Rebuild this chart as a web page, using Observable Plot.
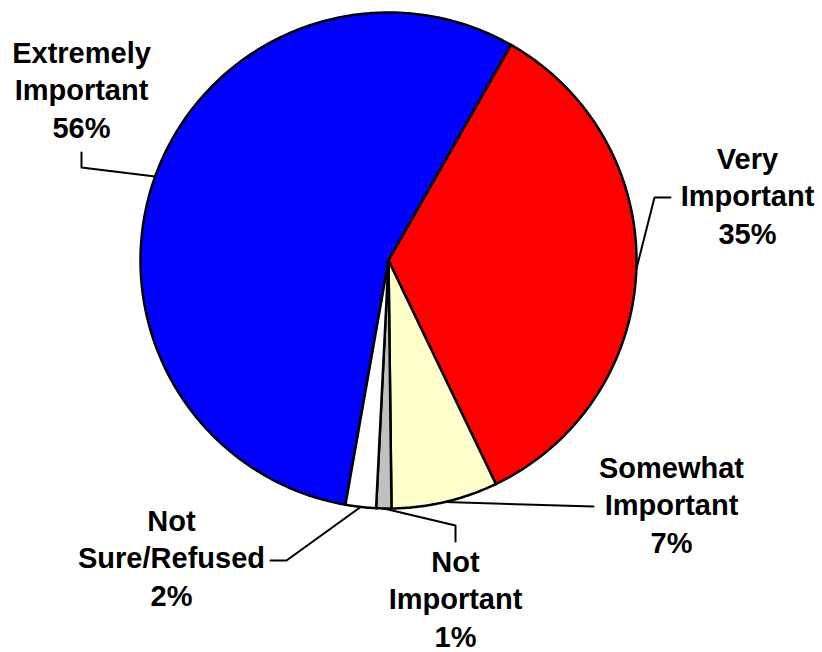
<!DOCTYPE html>
<html>
<head>
<meta charset="utf-8">
<script src="https://cdn.jsdelivr.net/npm/d3@7"></script>
<script src="https://cdn.jsdelivr.net/npm/@observablehq/plot@0.6"></script>
<style>
  html, body { margin: 0; padding: 0; background: #fff; }
  #chart svg { display: block; }
</style>
</head>
<body>
<div id="chart"></div>
<script>
// ---- data ----
const categories = ["Extremely Important", "Very Important", "Somewhat Important", "Not Important", "Not Sure/Refused"];
const values = [56, 35, 7, 1, 2];
const colors = ["#0000FF", "#FF0000", "#FFFFCC", "#C0C0C0", "#FFFFFF"];

// ---- layout (pixels) ----
const W = 822, H = 652;
const cx = 388, cy = 260, R = 248;
const startDeg = 190;
const fontSize = 29, lineH = 37.5;
const labelPos = {
  "Extremely Important": {x: 81, y: 62, leader: [[81, 152], [81, 167]]},
  "Very Important": {x: 747, y: 168, leader: [[670, 197], [654, 197]]},
  "Somewhat Important": {x: 671, y: 477, leader: [[593, 506]]},
  "Not Important": {x: 455, y: 571, leader: [[455, 541], [455, 525]]},
  "Not Sure/Refused": {x: 171, y: 530, leader: [[270, 560], [286, 560]]}
};

const rows = categories.map((c, i) => ({category: c, value: values[i]}));
const arcs = d3.pie().sort(null).value(d => d.value)
  .startAngle(startDeg * Math.PI / 180)
  .endAngle((startDeg + 360) * Math.PI / 180)(rows);

const pt = (a, r) => [cx + r * Math.sin(a), cy - r * Math.cos(a)];

// slice polygons
const slicePts = [];
arcs.forEach(a => {
  const c = a.data.category;
  slicePts.push({category: c, x: cx, y: cy});
  const n = Math.max(4, Math.ceil((a.endAngle - a.startAngle) / (Math.PI / 360)));
  for (let k = 0; k <= n; k++) {
    const ang = a.startAngle + (a.endAngle - a.startAngle) * k / n;
    const [x, y] = pt(ang, R);
    slicePts.push({category: c, x, y});
  }
  slicePts.push({category: c, x: cx, y: cy});
});

// leader lines
const leaderPts = [];
arcs.forEach(a => {
  const c = a.data.category;
  const mid = (a.startAngle + a.endAngle) / 2;
  labelPos[c].leader.forEach(([x, y]) => leaderPts.push({category: c, x, y}));
  const [ex, ey] = pt(mid, R);
  leaderPts.push({category: c, x: ex, y: ey});
});

// label lines
const textRows = [];
rows.forEach(r => {
  const c = r.category;
  const sp = c.indexOf(" ");
  const lines = [c.slice(0, sp), c.slice(sp + 1), r.value + "%"];
  lines.forEach((t, j) => textRows.push({x: labelPos[c].x, y: labelPos[c].y + j * lineH, text: t}));
});

const chart = Plot.plot({
  width: W, height: H,
  margin: 0,
  x: {domain: [0, W], range: [0, W], axis: null},
  y: {domain: [0, H], range: [0, H], axis: null},
  color: {domain: categories, range: colors},
  style: {background: "#fff"},
  marks: [
    Plot.line(slicePts, {x: "x", y: "y", z: "category", fill: "category", stroke: "#000", strokeWidth: 2.5, strokeLinejoin: "round"}),
    Plot.line(leaderPts, {x: "x", y: "y", z: "category", stroke: "#000", strokeWidth: 2}),
    Plot.text(textRows, {x: "x", y: "y", text: "text", textAnchor: "middle", lineAnchor: "bottom",
      fontSize: fontSize, fontWeight: "bold", fontFamily: "'Liberation Sans', Arial, sans-serif", fill: "#000"})
  ]
});
document.getElementById("chart").appendChild(chart);
</script>
</body>
</html>
